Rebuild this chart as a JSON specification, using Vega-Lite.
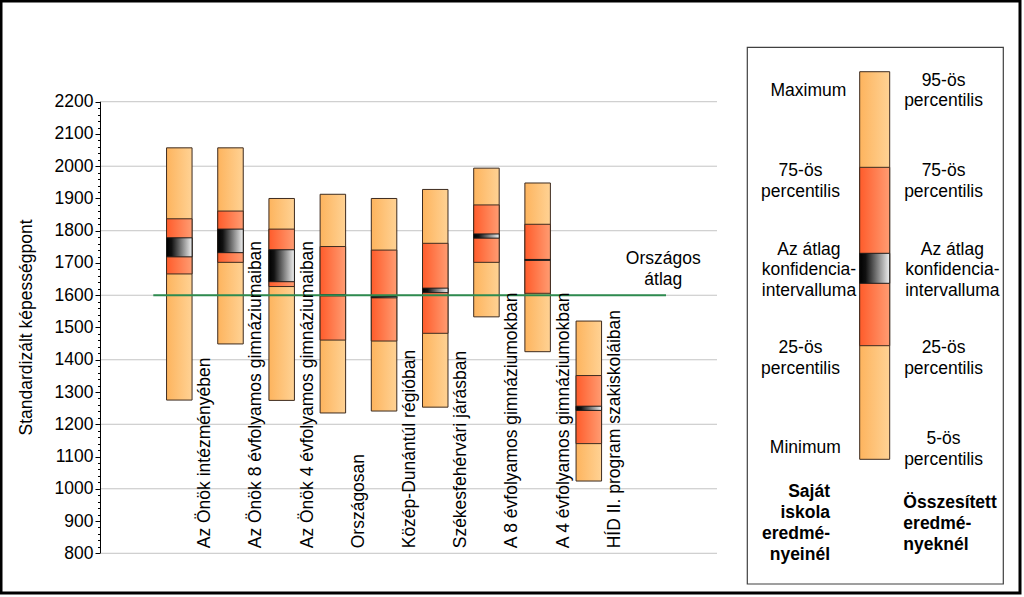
{
  "$schema": "https://vega.github.io/schema/vega-lite/v6.json",
  "width": 1019,
  "height": 592,
  "autosize": {"type": "none"},
  "padding": {"left": 1, "top": 1, "right": 4, "bottom": 4},
  "background": "white",
  "config": {
    "view": {"stroke": "#000000", "strokeWidth": 3},
    "font": "Liberation Sans",
    "text": {"font": "Liberation Sans", "fontSize": 17.5, "color": "#000000"}
  },
  "resolve": {"scale": {"x": "independent"}, "axis": {"y": "independent"}},
  "datasets": {
    "boxes": [
      {"group": "Az Önök intézményében", "min": 1275, "p25": 1666, "ciLo": 1719, "ciHi": 1778, "p75": 1837, "max": 2057},
      {"group": "Az Önök 8 évfolyamos gimnáziumaiban", "min": 1449, "p25": 1702, "ciLo": 1732, "ciHi": 1805, "p75": 1861, "max": 2057},
      {"group": "Az Önök 4 évfolyamos gimnáziumaiban", "min": 1274, "p25": 1627, "ciLo": 1642, "ciHi": 1741, "p75": 1805, "max": 1900},
      {"group": "Országosan", "min": 1235, "p25": 1461, "ciLo": 1598, "ciHi": 1602, "p75": 1751, "max": 1913},
      {"group": "Közép-Dunántúl régióban", "min": 1241, "p25": 1458, "ciLo": 1592, "ciHi": 1596, "p75": 1740, "max": 1900},
      {"group": "Székesfehérvári járásban", "min": 1253, "p25": 1482, "ciLo": 1608, "ciHi": 1622, "p75": 1761, "max": 1928},
      {"group": "A 8 évfolyamos gimnáziumokban", "min": 1533, "p25": 1702, "ciLo": 1777, "ciHi": 1790, "p75": 1880, "max": 1994},
      {"group": "A 4 évfolyamos gimnáziumokban", "min": 1425, "p25": 1606, "ciLo": 1708, "ciHi": 1711, "p75": 1820, "max": 1948},
      {"group": "HÍD II. program szakiskoláiban", "min": 1024, "p25": 1140, "ciLo": 1243, "ciHi": 1256, "p75": 1351, "max": 1520}
    ],
    "grid": [{"g": 800}, {"g": 1000}, {"g": 1200}, {"g": 1400}, {"g": 1600}, {"g": 1800}, {"g": 2000}, {"g": 2200}],
    "average": [{"label": "Országos\nátlag", "value": 1600}],
    "legendBar": [{"item": "legend", "lx": 14.655, "min": 1091.4, "p25": 1443.6, "ciLo": 1637, "ciHi": 1730, "p75": 1996.6, "max": 2293}],
    "legendLabels": [
      {"text": "Maximum", "lx": 13.29, "ly": 2234.1},
      {"text": "75-ös\npercentilis", "lx": 13.135, "ly": 1984.2},
      {"text": "Az átlag\nkonfidencia-\nintervalluma", "lx": 13.3, "ly": 1740.3},
      {"text": "25-ös\npercentilis", "lx": 13.135, "ly": 1435.5},
      {"text": "Minimum", "lx": 13.23, "ly": 1125.5},
      {"text": "95-ös\npercentilis", "lx": 15.929, "ly": 2264.8},
      {"text": "75-ös\npercentilis", "lx": 15.929, "ly": 1984.2},
      {"text": "Az átlag\nkonfidencia-\nintervalluma", "lx": 16.101, "ly": 1740.3},
      {"text": "25-ös\npercentilis", "lx": 15.929, "ly": 1435.5},
      {"text": "5-ös\npercentilis", "lx": 15.929, "ly": 1154.3}
    ],
    "legendSchool": [{"text": "Saját\niskola\neredmé-\nnyeinél", "lx": 13.712, "ly": 989.1}],
    "legendAll": [{"text": "Összesített\neredmé-\nnyeknél", "lx": 15.144, "ly": 955}]
  },
  "layer": [
    {
      "data": {"name": "grid"},
      "mark": {"type": "rule", "color": "#C4C4C4", "strokeWidth": 1},
      "encoding": {
        "x": {"datum": -0.5394, "type": "quantitative", "scale": {"domain": [-2.4831, 17.4231], "nice": false, "zero": false}, "axis": null},
        "x2": {"datum": 11.504},
        "y": {"field": "g", "type": "quantitative", "scale": {"domain": [676.9, 2512.2], "nice": false, "zero": false}, "axis": null}
      }
    },
    {
      "data": {"values": [{}]},
      "mark": {"type": "rule", "color": "#000000", "strokeWidth": 1},
      "encoding": {
        "x": {"datum": -0.5394, "type": "quantitative", "scale": {"domain": [-2.4831, 17.4231], "nice": false, "zero": false}, "axis": null},
        "y": {"datum": 800, "type": "quantitative", "scale": {"domain": [676.9, 2512.2], "nice": false, "zero": false},
          "axis": {
            "orient": "left",
            "offset": -99,
            "values": [820,840,860,880,920,940,960,980,1020,1040,1060,1080,1120,1140,1160,1180,1220,1240,1260,1280,1320,1340,1360,1380,1420,1440,1460,1480,1520,1540,1560,1580,1620,1640,1660,1680,1720,1740,1760,1780,1820,1840,1860,1880,1920,1940,1960,1980,2020,2040,2060,2080,2120,2140,2160,2180],
            "domain": false,
            "grid": false,
            "labels": false,
            "ticks": true,
            "tickSize": 2.5,
            "tickColor": "#000000",
            "tickWidth": 1,
            "title": null
          }
        },
        "y2": {"datum": 2200}
      }
    },
    {
      "data": {"name": "boxes"},
      "mark": {"type": "bar", "stroke": "#3d2b1f", "strokeWidth": 1,
        "fill": {"gradient": "linear", "x1": 0, "y1": 0, "x2": 1, "y2": 0, "stops": [{"offset": 0, "color": "#FDB45E"}, {"offset": 1, "color": "#FFD294"}]}},
      "encoding": {
        "x": {"field": "group", "type": "nominal", "sort": null, "scale": {"type": "band", "domain": ["Az Önök intézményében", "Az Önök 8 évfolyamos gimnáziumaiban", "Az Önök 4 évfolyamos gimnáziumaiban", "Országosan", "Közép-Dunántúl régióban", "Székesfehérvári járásban", "A 8 évfolyamos gimnáziumokban", "A 4 évfolyamos gimnáziumokban", "HÍD II. program szakiskoláiban"], "range": [165.55, 600.57], "paddingInner": 0.5019, "paddingOuter": 0}, "axis": null},
        "y": {"field": "max", "type": "quantitative", "scale": {"domain": [676.9, 2512.2], "nice": false, "zero": false},
          "axis": {
            "orient": "left",
            "values": [800, 900, 1000, 1100, 1200, 1300, 1400, 1500, 1600, 1700, 1800, 1900, 2000, 2100, 2200],
            "offset": -99,
            "domain": false,
            "grid": false,
            "format": "d",
            "labelOverlap": false,
            "labelFlush": false,
            "labelFontSize": 17.5,
            "labelColor": "#000000",
            "labelFont": "Liberation Sans",
            "labelPadding": 2,
            "tickColor": "#000000",
            "tickWidth": 1,
            "tickSize": 5,
            "title": "Standardizált képességpont",
            "titleFont": "Liberation Sans",
            "titleFontSize": 17.5,
            "titleFontWeight": "normal",
            "titleColor": "#000000",
            "titleAngle": 270,
            "titleAlign": "center",
            "titleBaseline": "middle",
            "titleX": -73.3,
            "titleY": 326
          }
        },
        "y2": {"field": "min"}
      }
    },
    {
      "data": {"name": "boxes"},
      "mark": {"type": "bar", "stroke": "#3d2b1f", "strokeWidth": 1,
        "fill": {"gradient": "linear", "x1": 0, "y1": 0, "x2": 1, "y2": 0, "stops": [{"offset": 0, "color": "#FF5C2B"}, {"offset": 1, "color": "#FF9C72"}]}},
      "encoding": {
        "x": {"field": "group", "type": "nominal", "sort": null, "scale": {"type": "band", "domain": ["Az Önök intézményében", "Az Önök 8 évfolyamos gimnáziumaiban", "Az Önök 4 évfolyamos gimnáziumaiban", "Országosan", "Közép-Dunántúl régióban", "Székesfehérvári járásban", "A 8 évfolyamos gimnáziumokban", "A 4 évfolyamos gimnáziumokban", "HÍD II. program szakiskoláiban"], "range": [165.55, 600.57], "paddingInner": 0.5019, "paddingOuter": 0}, "axis": null},
        "y": {"field": "p75", "type": "quantitative", "scale": {"domain": [676.9, 2512.2], "nice": false, "zero": false}, "axis": null},
        "y2": {"field": "p25"}
      }
    },
    {
      "data": {"name": "boxes"},
      "mark": {"type": "bar", "stroke": "#1a1a1a", "strokeWidth": 1,
        "fill": {"gradient": "linear", "x1": 0, "y1": 0, "x2": 1, "y2": 0, "stops": [{"offset": 0, "color": "#000000"}, {"offset": 0.2, "color": "#111111"}, {"offset": 1, "color": "#F0F0F0"}]}},
      "encoding": {
        "x": {"field": "group", "type": "nominal", "sort": null, "scale": {"type": "band", "domain": ["Az Önök intézményében", "Az Önök 8 évfolyamos gimnáziumaiban", "Az Önök 4 évfolyamos gimnáziumaiban", "Országosan", "Közép-Dunántúl régióban", "Székesfehérvári járásban", "A 8 évfolyamos gimnáziumokban", "A 4 évfolyamos gimnáziumokban", "HÍD II. program szakiskoláiban"], "range": [165.55, 600.57], "paddingInner": 0.5019, "paddingOuter": 0}, "axis": null},
        "y": {"field": "ciHi", "type": "quantitative", "scale": {"domain": [676.9, 2512.2], "nice": false, "zero": false}, "axis": null},
        "y2": {"field": "ciLo"}
      }
    },
    {
      "data": {"name": "average"},
      "mark": {"type": "rule", "color": "#2E8B4F", "strokeWidth": 2},
      "encoding": {
        "x": {"datum": 0.492, "type": "quantitative", "scale": {"domain": [-2.4831, 17.4231], "nice": false, "zero": false}, "axis": null},
        "x2": {"datum": 10.508},
        "y": {"field": "value", "type": "quantitative", "scale": {"domain": [676.9, 2512.2], "nice": false, "zero": false}, "axis": null}
      }
    },
    {
      "data": {"name": "average"},
      "mark": {"type": "text", "align": "center", "baseline": "middle", "lineBreak": "\n", "lineHeight": 21, "fontSize": 17.5, "color": "#000000"},
      "encoding": {
        "x": {"datum": 10.455, "type": "quantitative", "scale": {"domain": [-2.4831, 17.4231], "nice": false, "zero": false}, "axis": null},
        "y": {"datum": 1712.4, "type": "quantitative", "scale": {"domain": [676.9, 2512.2], "nice": false, "zero": false}, "axis": null},
        "text": {"field": "label", "type": "nominal"}
      }
    },
    {
      "data": {"name": "boxes"},
      "mark": {"type": "text", "angle": 270, "align": "left", "baseline": "middle", "dy": 26, "fontSize": 17.5, "color": "#000000"},
      "encoding": {
        "x": {"field": "group", "type": "nominal", "sort": null, "scale": {"type": "band", "domain": ["Az Önök intézményében", "Az Önök 8 évfolyamos gimnáziumaiban", "Az Önök 4 évfolyamos gimnáziumaiban", "Országosan", "Közép-Dunántúl régióban", "Székesfehérvári járásban", "A 8 évfolyamos gimnáziumokban", "A 4 évfolyamos gimnáziumokban", "HÍD II. program szakiskoláiban"], "range": [165.55, 600.57], "paddingInner": 0.5019, "paddingOuter": 0}, "axis": null},
        "y": {"datum": 815.5, "type": "quantitative", "scale": {"domain": [676.9, 2512.2], "nice": false, "zero": false}, "axis": null},
        "text": {"field": "group", "type": "nominal"}
      }
    },
    {
      "data": {"values": [{}]},
      "mark": {"type": "rect", "fill": "#FFFFFF", "stroke": "#404040", "strokeWidth": 1.2},
      "encoding": {
        "x": {"datum": 12.096, "type": "quantitative", "scale": {"domain": [-2.4831, 17.4231], "nice": false, "zero": false}, "axis": null},
        "x2": {"datum": 17.097},
        "y": {"datum": 2368.6, "type": "quantitative", "scale": {"domain": [676.9, 2512.2], "nice": false, "zero": false}, "axis": null},
        "y2": {"datum": 704.8}
      }
    },
    {
      "data": {"name": "legendBar"},
      "mark": {"type": "bar", "width": 30, "stroke": "#3d2b1f", "strokeWidth": 1,
        "fill": {"gradient": "linear", "x1": 0, "y1": 0, "x2": 1, "y2": 0, "stops": [{"offset": 0, "color": "#FDB45E"}, {"offset": 1, "color": "#FFD294"}]}},
      "encoding": {
        "x": {"field": "lx", "type": "quantitative", "scale": {"domain": [-2.4831, 17.4231], "nice": false, "zero": false}, "axis": null},
        "y": {"field": "max", "type": "quantitative", "scale": {"domain": [676.9, 2512.2], "nice": false, "zero": false}, "axis": null},
        "y2": {"field": "min"}
      }
    },
    {
      "data": {"name": "legendBar"},
      "mark": {"type": "bar", "width": 30, "stroke": "#3d2b1f", "strokeWidth": 1,
        "fill": {"gradient": "linear", "x1": 0, "y1": 0, "x2": 1, "y2": 0, "stops": [{"offset": 0, "color": "#FF5C2B"}, {"offset": 1, "color": "#FF9C72"}]}},
      "encoding": {
        "x": {"field": "lx", "type": "quantitative", "scale": {"domain": [-2.4831, 17.4231], "nice": false, "zero": false}, "axis": null},
        "y": {"field": "p75", "type": "quantitative", "scale": {"domain": [676.9, 2512.2], "nice": false, "zero": false}, "axis": null},
        "y2": {"field": "p25"}
      }
    },
    {
      "data": {"name": "legendBar"},
      "mark": {"type": "bar", "width": 30, "stroke": "#1a1a1a", "strokeWidth": 1,
        "fill": {"gradient": "linear", "x1": 0, "y1": 0, "x2": 1, "y2": 0, "stops": [{"offset": 0, "color": "#000000"}, {"offset": 0.2, "color": "#111111"}, {"offset": 1, "color": "#F0F0F0"}]}},
      "encoding": {
        "x": {"field": "lx", "type": "quantitative", "scale": {"domain": [-2.4831, 17.4231], "nice": false, "zero": false}, "axis": null},
        "y": {"field": "ciHi", "type": "quantitative", "scale": {"domain": [676.9, 2512.2], "nice": false, "zero": false}, "axis": null},
        "y2": {"field": "ciLo"}
      }
    },
    {
      "data": {"name": "legendLabels"},
      "mark": {"type": "text", "align": "center", "baseline": "middle", "lineBreak": "\n", "lineHeight": 20.5, "fontSize": 17.5, "color": "#000000"},
      "encoding": {
        "x": {"field": "lx", "type": "quantitative", "scale": {"domain": [-2.4831, 17.4231], "nice": false, "zero": false}, "axis": null},
        "y": {"field": "ly", "type": "quantitative", "scale": {"domain": [676.9, 2512.2], "nice": false, "zero": false}, "axis": null},
        "text": {"field": "text", "type": "nominal"}
      }
    },
    {
      "data": {"name": "legendSchool"},
      "mark": {"type": "text", "align": "right", "baseline": "middle", "lineBreak": "\n", "lineHeight": 21, "fontSize": 17.5, "fontWeight": "bold", "color": "#000000"},
      "encoding": {
        "x": {"field": "lx", "type": "quantitative", "scale": {"domain": [-2.4831, 17.4231], "nice": false, "zero": false}, "axis": null},
        "y": {"field": "ly", "type": "quantitative", "scale": {"domain": [676.9, 2512.2], "nice": false, "zero": false}, "axis": null},
        "text": {"field": "text", "type": "nominal"}
      }
    },
    {
      "data": {"name": "legendAll"},
      "mark": {"type": "text", "align": "left", "baseline": "middle", "lineBreak": "\n", "lineHeight": 21, "fontSize": 17.5, "fontWeight": "bold", "color": "#000000"},
      "encoding": {
        "x": {"field": "lx", "type": "quantitative", "scale": {"domain": [-2.4831, 17.4231], "nice": false, "zero": false}, "axis": null},
        "y": {"field": "ly", "type": "quantitative", "scale": {"domain": [676.9, 2512.2], "nice": false, "zero": false}, "axis": null},
        "text": {"field": "text", "type": "nominal"}
      }
    }
  ]
}
